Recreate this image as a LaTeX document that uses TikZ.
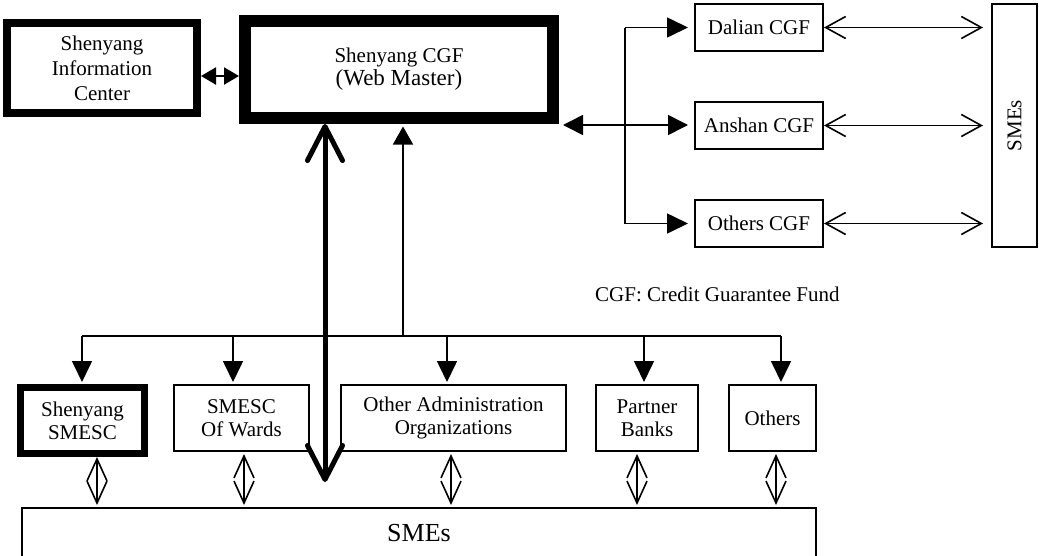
\documentclass[tikz,border=0pt]{standalone}
\usepackage{fontspec}
\setmainfont{Liberation Serif}
\usetikzlibrary{arrows.meta}
\begin{document}
\begin{tikzpicture}[x=1pt,y=-1pt,
  box/.style={draw, line width=2pt, align=center, inner sep=0pt, font=\fontsize{21}{23}\selectfont},
  conn/.style={line width=1.6pt},
  fa/.style={conn, -{Triangle[length=21pt,width=20pt]}},
  fbi/.style={conn, {Triangle[length=20pt,width=20pt]}-{Triangle[length=20pt,width=20pt]}},
  sbi/.style={line width=2.2pt, {Triangle[length=15pt,width=17pt]}-{Triangle[length=15pt,width=17pt]}},
  obi/.style={conn, {Straight Barb[length=20pt,width=22pt]}-{Straight Barb[length=20pt,width=22pt]}},
  vbi/.style={conn, {Straight Barb[length=22pt,width=20pt]}-{Straight Barb[length=22pt,width=20pt]}},
  thickarrow/.style={line width=5pt, {Straight Barb[length=34pt,width=35pt,round]}-{Straight Barb[length=34pt,width=35pt,round]}}
]
\useasboundingbox (0,0) rectangle (1039,555);

% top nodes
\node[box, line width=8pt, minimum width=190pt, minimum height=90pt, font=\fontsize{21}{25}\selectfont] (info) at (102,68) {Shenyang\\Information\\Center};
\node[box, line width=12pt, minimum width=308pt, minimum height=97pt] (cgf) at (399,69.5)
  {{\fontsize{21}{23}\selectfont Shenyang CGF}\\{\fontsize{23}{23}\selectfont (Web Master)}};

\node[box, minimum width=128pt, minimum height=47pt] (dalian) at (759,27.5) {Dalian CGF};
\node[box, minimum width=128pt, minimum height=47pt] (anshan) at (759,125.5) {Anshan CGF};
\node[box, minimum width=128pt, minimum height=47pt] (othcgf) at (759,223.5) {Others CGF};
\node[box, minimum width=45pt, minimum height=243pt] (smesR) at (1014.5,125.5) {};
\node[rotate=90, font=\fontsize{21}{23}\selectfont] (smesRt) at (smesR.center) {SMEs};

\node[anchor=base west, inner sep=0pt, font=\fontsize{21}{23}\selectfont] (legend) at (595,301) {CGF: Credit Guarantee Fund};

% bottom nodes
\node[box, line width=7pt, minimum width=124pt, minimum height=66pt] (smesc) at (82.5,420.5) {Shenyang\\SMESC};
\node[box, minimum width=135pt, minimum height=66pt] (wards) at (241.5,418) {SMESC\\Of Wards};
\node[box, minimum width=225pt, minimum height=66pt] (admin) at (453.5,418) {Other Administration\\Organizations};
\node[box, minimum width=102pt, minimum height=66pt] (banks) at (647,418) {Partner\\Banks};
\node[box, minimum width=87pt, minimum height=66pt] (others) at (772.5,418) {Others};
\node[box, minimum width=794pt, minimum height=50pt, font=\fontsize{26}{28}\selectfont] (smesB) at (419,533) {SMEs};

% coordinates
\coordinate (bus1) at (82,336);
\coordinate (bus2) at (233,336);
\coordinate (bus3) at (447,336);
\coordinate (bus4) at (644,336);
\coordinate (bus5) at (781,336);
\coordinate (busup) at (403,336);
\coordinate (tk) at (325,482);
\coordinate (b1) at (97,0);
\coordinate (b2) at (244,0);
\coordinate (b3) at (451,0);
\coordinate (b4) at (637,0);
\coordinate (b5) at (776,0);
\coordinate (cgfR) at (563,125);
\coordinate (split) at (625,125);

% info <-> cgf
\draw[sbi] (info.east |- 0,76) -- (cgf.west |- 0,76);

% right side
\draw[fbi, shorten >=6pt] (cgfR) -- (anshan.west |- cgfR);
\draw[conn] (split |- dalian.west) -- (split |- othcgf.west);
\draw[fa, shorten >=6pt] (split |- dalian.west) -- (dalian.west);
\draw[fa, shorten >=6pt] (split |- othcgf.west) -- (othcgf.west);
\draw[obi, shorten >=8pt] (dalian.east) -- (dalian.east -| smesR.west);
\draw[obi, shorten >=8pt] (anshan.east) -- (anshan.east -| smesR.west);
\draw[obi, shorten >=8pt] (othcgf.east) -- (othcgf.east -| smesR.west);

% bus
\draw[conn] (bus1) -- (bus5);
\draw[conn, -{Triangle[length=18pt,width=20pt]}, shorten >=2.5pt] (busup) -- (busup |- cgf.south);
\draw[fa, shorten >=2pt] (bus1) -- (bus1 |- smesc.north);
\draw[fa, shorten >=2pt] (bus2) -- (bus2 |- wards.north);
\draw[fa, shorten >=2pt] (bus3) -- (bus3 |- admin.north);
\draw[fa, shorten >=2pt] (bus4) -- (bus4 |- banks.north);
\draw[fa, shorten >=2pt] (bus5) -- (bus5 |- others.north);

% thick arrow
\draw[thickarrow] (tk |- cgf.south) -- (tk);

% bottom bidirectional
\draw[vbi, shorten >=2pt] (b1 |- smesc.south) -- (b1 |- smesB.north);
\draw[vbi, shorten <=2pt, shorten >=2pt] (b2 |- wards.south) -- (b2 |- smesB.north);
\draw[vbi, shorten <=2pt, shorten >=2pt] (b3 |- admin.south) -- (b3 |- smesB.north);
\draw[vbi, shorten <=2pt, shorten >=2pt] (b4 |- banks.south) -- (b4 |- smesB.north);
\draw[vbi, shorten <=2pt, shorten >=2pt] (b5 |- others.south) -- (b5 |- smesB.north);
\end{tikzpicture}
\end{document}
